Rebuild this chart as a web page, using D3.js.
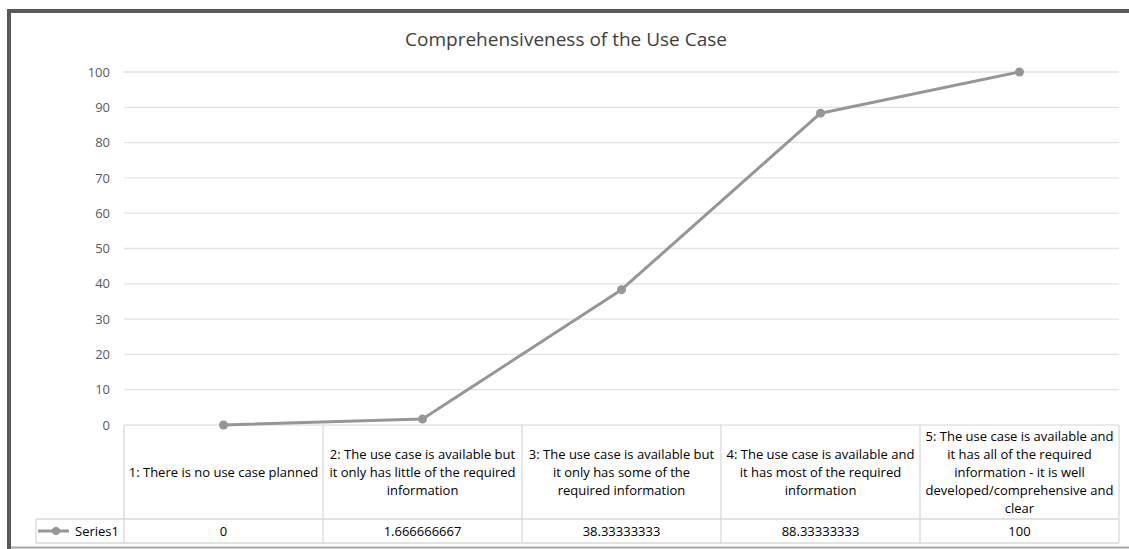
<!DOCTYPE html>
<html><head><meta charset="utf-8">
<script src="https://cdn.jsdelivr.net/npm/d3@7"></script>
<style>body{margin:0;background:#fff}svg{display:block}text{font-family:"Open Sans","Noto Sans",sans-serif}</style>
</head><body>
<svg id="c" width="1129" height="549"></svg>
<script>
const title = "Comprehensiveness of the Use Case";
const categories = [
  "1: There is no use case planned",
  "2: The use case is available but\nit only has little of the required\ninformation",
  "3: The use case is available but\nit only has some of the\nrequired information",
  "4: The use case is available and\nit has most of the required\ninformation",
  "5: The use case is available and\nit has all of the required\ninformation - it is well\ndeveloped/comprehensive and\nclear"
];
const seriesName = "Series1";
const values = [0, 1.666666667, 38.33333333, 88.33333333, 100];
const valueLabels = ["0", "1.666666667", "38.33333333", "88.33333333", "100"];
const yTicks = [0, 10, 20, 30, 40, 50, 60, 70, 80, 90, 100];

const svg = d3.select("#c");
const W = 1129, H = 549;
const plotL = 124, plotR = 1119, plotT = 72, plotB = 425;
const tableBottom1 = 519, tableBottom2 = 543, legendL = 36;

// outer frame
svg.append("rect").attr("x", 9).attr("y", 11).attr("width", W + 10).attr("height", 560)
  .attr("fill", "none").attr("stroke", "#595959").attr("stroke-width", 4);
svg.append("line").attr("x1", 11).attr("x2", W).attr("y1", 547.5).attr("y2", 547.5)
  .attr("stroke", "#a6a6a6").attr("stroke-width", 2);

const x = d3.scaleBand().domain(d3.range(categories.length)).range([plotL, plotR]).padding(0);
const y = d3.scaleLinear().domain([0, 100]).range([plotB, plotT]);

// gridlines
svg.append("g").selectAll("line").data(yTicks).join("line")
  .attr("x1", plotL).attr("x2", plotR)
  .attr("y1", d => y(d)).attr("y2", d => y(d))
  .attr("stroke", "#e3e3e3").attr("stroke-width", 1.3);

// y axis labels
const yAxis = d3.axisLeft(y).tickValues(yTicks).tickSize(0).tickPadding(0);
const ga = svg.append("g").attr("transform", `translate(110,0)`).call(yAxis);
ga.select(".domain").remove();
ga.selectAll("text").attr("font-size", 13).attr("fill", "#595959").attr("font-family", '"Open Sans",sans-serif');

// title
svg.append("text").attr("x", 566).attr("y", 46).attr("text-anchor", "middle")
  .attr("font-size", 19).attr("fill", "#404040").text(title);

// table
const tg = svg.append("g");
const tc = "#d9d9d9";
const bounds = d3.range(categories.length + 1).map(i => i < categories.length ? x(i) : plotR);
tg.selectAll("line.v").data(bounds).join("line")
  .attr("x1", d => d).attr("x2", d => d).attr("y1", plotB).attr("y2", tableBottom2)
  .attr("stroke", tc).attr("stroke-width", 1.3);
tg.append("line").attr("x1", legendL).attr("x2", legendL).attr("y1", tableBottom1).attr("y2", tableBottom2).attr("stroke", tc).attr("stroke-width", 1.3);
tg.append("line").attr("x1", legendL).attr("x2", plotR).attr("y1", tableBottom1).attr("y2", tableBottom1).attr("stroke", tc).attr("stroke-width", 1.3);
tg.append("line").attr("x1", legendL).attr("x2", plotR).attr("y1", tableBottom2).attr("y2", tableBottom2).attr("stroke", tc).attr("stroke-width", 1.3);

// category labels
const lh = 18;
categories.forEach((c, i) => {
  const lines = c.split("\n");
  const cx = x(i) + x.bandwidth() / 2;
  const midY = (plotB + tableBottom1) / 2;
  const startY = midY - (lines.length - 1) * lh / 2 + 5;
  const t = tg.append("text").attr("text-anchor", "middle").attr("font-size", 13).attr("fill", "#000");
  lines.forEach((l, k) => t.append("tspan").attr("x", cx).attr("y", startY + k * lh).text(l));
});
// values row
tg.selectAll("text.val").data(valueLabels).join("text").attr("class", "val")
  .attr("x", (d, i) => x(i) + x.bandwidth() / 2).attr("y", (tableBottom1 + tableBottom2) / 2 + 5)
  .attr("text-anchor", "middle").attr("font-size", 13).attr("fill", "#000").text(d => d);
// legend cell
const lc = "#969696";
tg.append("line").attr("x1", 38).attr("x2", 69).attr("y1", 531).attr("y2", 531).attr("stroke", lc).attr("stroke-width", 3);
tg.append("circle").attr("cx", 56).attr("cy", 531).attr("r", 4).attr("fill", lc);
tg.append("text").attr("x", 119).attr("y", 536).attr("text-anchor", "end").attr("font-size", 13).attr("fill", "#000").text(seriesName);

// series line
const line = d3.line().x((d, i) => x(i) + x.bandwidth() / 2).y(d => y(d));
svg.append("path").datum(values).attr("d", line).attr("fill", "none").attr("stroke", lc).attr("stroke-width", 3).attr("stroke-linejoin", "round");
svg.append("g").selectAll("circle").data(values).join("circle")
  .attr("cx", (d, i) => x(i) + x.bandwidth() / 2).attr("cy", d => y(d)).attr("r", 4.5).attr("fill", lc);
</script>
</body></html>
